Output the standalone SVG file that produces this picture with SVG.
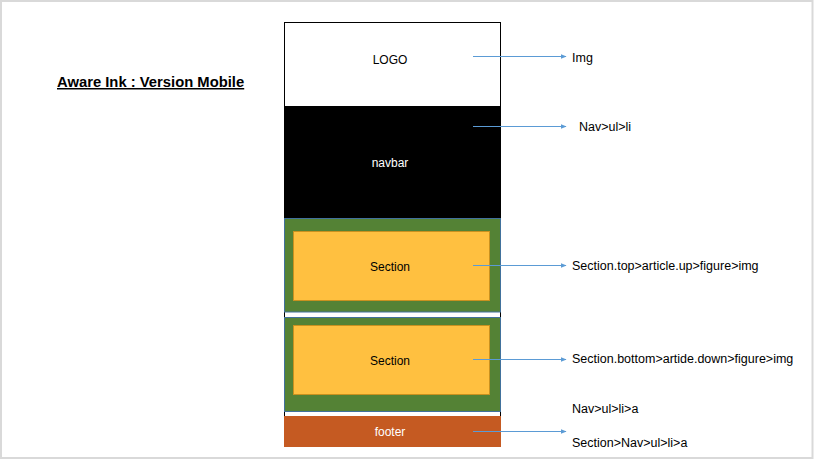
<svg xmlns="http://www.w3.org/2000/svg" width="815" height="460" viewBox="0 0 815 460">
<defs>
<style>
.t{font-family:"Liberation Sans",Arial,sans-serif;font-size:12.5px;fill:#000}
.c{text-anchor:middle;font-size:12px}
.w{fill:#fff}
.con line{stroke:#5B9BD5;stroke-width:1;marker-end:url(#ah)}
.green{fill:#548235;stroke:#41719C;stroke-width:1}
.yellow{fill:#FFC040;stroke:#C9911F;stroke-width:1}
</style>
<marker id="ah" viewBox="0 0 10 10" refX="9" refY="5" markerWidth="6" markerHeight="6" orient="auto" markerUnits="userSpaceOnUse">
<path d="M0,1 L10,5 L0,9 z" fill="#5B9BD5"/>
</marker>
</defs>
<rect x="0" y="0" width="815" height="460" fill="#fff"/>
<rect x="1" y="1" width="811.5" height="457" fill="none" stroke="#D9D9D9" stroke-width="2"/>
<g id="title">
<text x="57" y="87" class="t" style="font-weight:bold;font-size:14.8px;text-decoration:underline">Aware Ink : Version Mobile</text>
</g>
<g id="frame">
<rect x="284.5" y="22.5" width="216" height="394" fill="#fff" stroke="#000" stroke-width="1"/>
</g>
<g id="logo">
<text x="390" y="64" class="t c">LOGO</text>
</g>
<g id="navbar">
<rect x="284" y="106" width="217" height="112" fill="#000"/>
<text x="390" y="167" class="t c w">navbar</text>
</g>
<g id="section1">
<rect x="284.5" y="218.5" width="216" height="93.5" class="green"/>
<rect x="293.5" y="231.5" width="196" height="69" class="yellow"/>
<text x="390" y="271" class="t c">Section</text>
</g>
<g id="section2">
<rect x="284.5" y="317.5" width="216" height="94" class="green"/>
<rect x="293.5" y="325.5" width="196" height="69" class="yellow"/>
<text x="390" y="365" class="t c">Section</text>
</g>
<g id="footer">
<rect x="284" y="416" width="217" height="31" fill="#C55A22"/>
<text x="390" y="436" class="t c w">footer</text>
</g>
<g id="connectors" class="con">
<line x1="473" y1="56.5" x2="566" y2="56.5"/>
<line x1="473" y1="126.5" x2="566" y2="126.5"/>
<line x1="473" y1="265.5" x2="566" y2="265.5"/>
<line x1="473" y1="359.5" x2="566" y2="359.5"/>
<line x1="473" y1="431.5" x2="566" y2="431.5"/>
</g>
<g id="labels">
<text x="572" y="62" class="t">Img</text>
<text x="579" y="131" class="t">Nav&gt;ul&gt;li</text>
<text x="572" y="270" class="t">Section.top&gt;article.up&gt;figure&gt;img</text>
<text x="572" y="363" class="t">Section.bottom&gt;artide.down&gt;figure&gt;img</text>
<text x="572" y="413" class="t">Nav&gt;ul&gt;li&gt;a</text>
<text x="572" y="447" class="t">Section&gt;Nav&gt;ul&gt;li&gt;a</text>
</g>
</svg>
